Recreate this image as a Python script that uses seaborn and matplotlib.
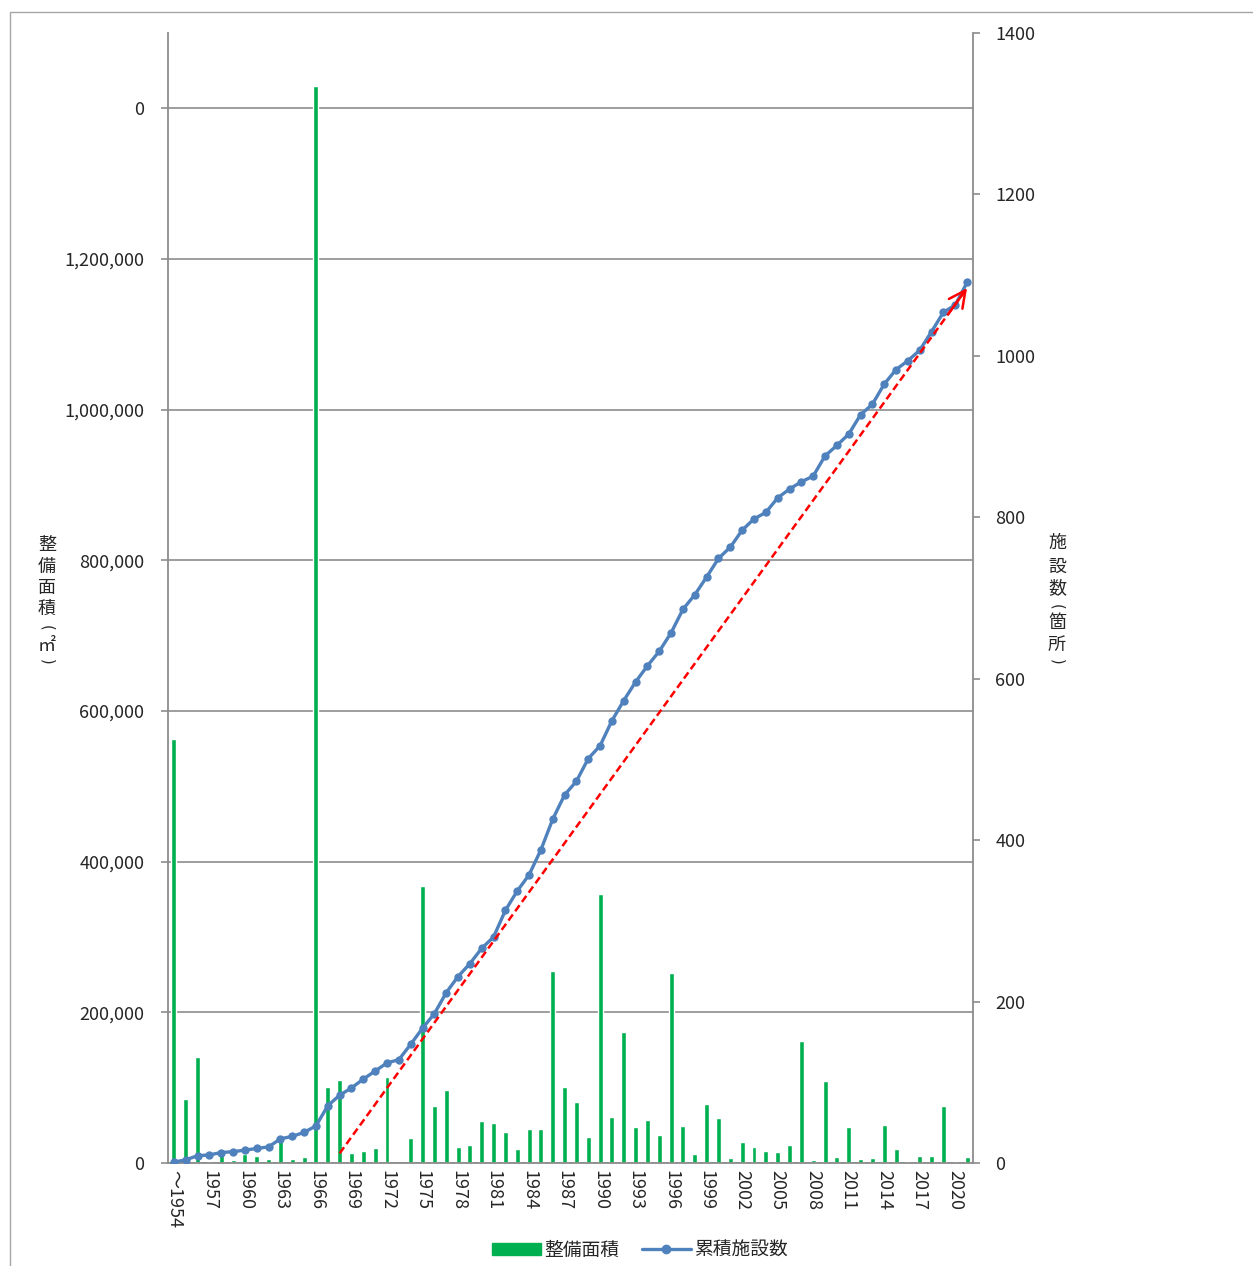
import numpy as np
import pandas as pd
import matplotlib
matplotlib.use("Agg")
import matplotlib.pyplot as plt
from matplotlib.patches import Rectangle, Patch
from matplotlib.lines import Line2D
import seaborn as sns

# ---------------- data ----------------
categories = ["～1954"] + [str(y) for y in range(1955, 2022)]
area = [563000, 84500, 141000, 1500, 15000, 4400, 12000, 9700, 5800, 30000,
        5800, 8400, 1430000, 101000, 110000, 13300, 15500, 19500, 114600, 0,
        33600, 368000, 76100, 97300, 20800, 24300, 55700, 53100, 40700, 18100,
        44700, 45600, 254800, 100900, 81000, 34500, 357000, 60600, 174300, 48200,
        57100, 37200, 252100, 49500, 11900, 78300, 59700, 7100, 28300, 20800,
        15900, 14600, 24300, 161900, 4400, 108400, 8400, 48200, 5800, 7100,
        50900, 18100, 1800, 9700, 9700, 76100, 1800, 8400]
cumulative = [1, 4, 9, 10, 13, 14, 16, 18, 20, 30,
              33, 38, 46, 71, 84, 93, 104, 114, 124, 128,
              147, 167, 185, 211, 231, 247, 266, 280, 313, 337,
              357, 388, 426, 456, 473, 501, 517, 548, 573, 596,
              616, 634, 657, 686, 704, 726, 749, 763, 784, 798,
              806, 824, 835, 844, 851, 876, 889, 903, 927, 940,
              965, 983, 994, 1007, 1030, 1054, 1063, 1091]
left_ticks = [0, 200000, 400000, 600000, 800000, 1000000, 1200000, 1400000]
left_tick_labels = ["0", "200,000", "400,000", "600,000", "800,000",
                    "1,000,000", "1,200,000", "0"]
right_ticks = [0, 200, 400, 600, 800, 1000, 1200, 1400]
trend_start = (14, 12)
trend_end = (67, 1084)

bar_name = "整備面積"
line_name = "累積施設数"
left_label = ["整", "備", "面", "積", "(", "㎡", ")"]
right_label = ["施", "設", "数", "(", "箇", "所", ")"]

# ---------------- style ----------------
sns.set_style("white")
FONT = ["Noto Sans CJK JP", "DejaVu Sans"]
plt.rcParams["font.family"] = FONT

GREEN = "#00B050"
BLUE = "#4F81BD"
GRAY = "#8C8C8C"

fig = plt.figure(figsize=(12.53, 12.66), dpi=100)
ax = fig.add_axes([168/1253, 1-1163/1266, (973-168)/1253, (1163-33)/1266])

df = pd.DataFrame({"cat": categories, "area": area, "cum": cumulative,
                   "pos": np.arange(len(categories))})

sns.barplot(data=df, x="cat", y="area", color=GREEN, saturation=1,
            width=0.42, ax=ax, zorder=2)
ax.set_xlim(-0.5, len(categories) - 0.5)
ax.set_ylim(0, 1500000)
ax.set_yticks(left_ticks)
ax.set_yticklabels(left_tick_labels, fontsize=13)
ax.yaxis.grid(True, color=GRAY, lw=1.2, zorder=0)
ax.set_axisbelow(True)
ax.set_xlabel("")
ax.set_ylabel("")

ax.set_xticks(np.arange(0, len(categories), 3))
ax.set_xticklabels(categories[::3], rotation=270, fontsize=13)
ax.set_xticks(np.arange(-0.5, len(categories), 1), minor=True)
ax.tick_params(axis="x", which="major", length=0, pad=5)
ax.tick_params(axis="x", which="minor", length=5, width=1.2, color=GRAY, direction="out")
ax.tick_params(axis="y", length=5, width=1.2, color=GRAY, direction="out", pad=12)
for lab in ax.get_xticklabels():
    lab.set_va("top")
    lab.set_ha("center")

for s in ["top", "right"]:
    ax.spines[s].set_visible(False)
for s in ["left", "bottom"]:
    ax.spines[s].set_color(GRAY)
    ax.spines[s].set_linewidth(1.3)

ax2 = ax.twinx()
sns.lineplot(data=df, x="pos", y="cum", color=BLUE, lw=2.4, marker="o",
             markersize=6, markeredgewidth=0, ax=ax2, zorder=3)
ax2.set_ylim(0, 1400)
ax2.set_yticks(right_ticks)
ax2.set_yticklabels([str(v) for v in right_ticks], fontsize=13)
ax2.set_xlim(-0.5, len(categories) - 0.5)
ax2.set_xlabel("")
ax2.set_ylabel("")
ax2.tick_params(axis="y", length=5, width=1.2, color=GRAY, direction="out", pad=11)
for s in ["top", "left", "bottom"]:
    ax2.spines[s].set_visible(False)
ax2.spines["right"].set_color(GRAY)
ax2.spines["right"].set_linewidth(1.3)
ax2.grid(False)

# red dashed trend line with open arrowhead
ax2.plot([trend_start[0], trend_end[0]], [trend_start[1], trend_end[1]],
         color="red", lw=1.8, ls=(0, (3, 1.6)), zorder=5)
dx = trend_end[0] - trend_start[0]
dy = trend_end[1] - trend_start[1]
ax2.annotate("", xy=trend_end,
             xytext=(trend_end[0] - dx * 0.03, trend_end[1] - dy * 0.03),
             arrowprops=dict(arrowstyle="->,head_length=1.2,head_width=0.6",
                             color="red", lw=1.8, shrinkA=0, shrinkB=0),
             zorder=6)

# vertical axis titles, character by character (parentheses turned)
left_y = [545, 567, 588, 609, 628, 646, 662]
right_y = [543, 567, 588, 607, 623, 645, 662]
for chars, xs, ys in [(left_label, 47, left_y), (right_label, 1057, right_y)]:
    for ch, yy in zip(chars, ys):
        if ch in "()":
            fig.text(xs/1253, 1-yy/1266, ch, ha="center", va="center",
                     fontsize=10.5, rotation=270, rotation_mode="anchor",
                     family="DejaVu Sans")
        else:
            fig.text(xs/1253, 1-yy/1266, ch, ha="center", va="center",
                     fontsize=13, family=FONT)

# legend
handles = [Patch(facecolor=GREEN, edgecolor=GREEN),
           Line2D([0], [0], color=BLUE, lw=2.4, marker="o", markersize=6)]
fig.legend(handles, [bar_name, line_name], loc="center",
           bbox_to_anchor=(640/1253, 1-1250/1266), ncol=2, frameon=False,
           fontsize=13.5, handlelength=2.6, handleheight=0.55,
           columnspacing=1.2, handletextpad=0.2)

# outer chart border
fig.add_artist(Rectangle((10/1253, -0.05), 1.2, 1 - 12/1266 + 0.05,
                         transform=fig.transFigure, fill=False,
                         ec="#A6A6A6", lw=1.0))

fig.savefig("out.png", dpi=100)
